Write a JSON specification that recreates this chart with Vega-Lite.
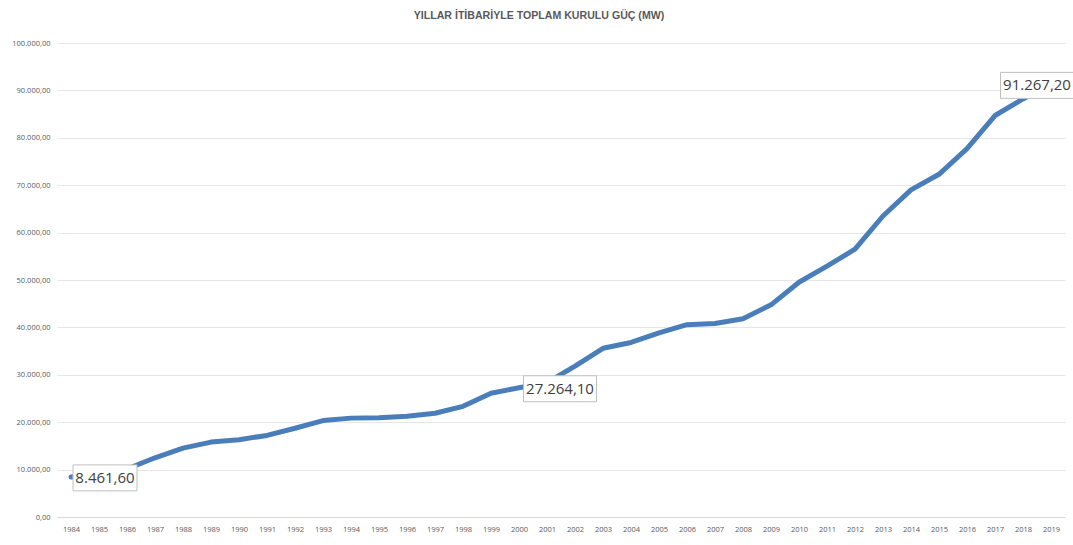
{
  "$schema": "https://vega.github.io/schema/vega-lite/v6.json",
  "width": 1008,
  "height": 474,
  "autosize": {"type": "none"},
  "padding": {"left": 57, "top": 43, "right": 8, "bottom": 28},
  "background": "white",
  "config": {
    "locale": {"number": {"decimal": ",", "thousands": ".", "grouping": [3], "currency": ["", " ₺"]}},
    "view": {"stroke": null},
    "font": "Open Sans"
  },
  "title": {
    "text": "YILLAR İTİBARİYLE TOPLAM KURULU GÜÇ (MW)",
    "anchor": "middle",
    "dx": -22,
    "offset": 17,
    "font": "Liberation Sans",
    "fontSize": 10.6,
    "fontWeight": "bold",
    "color": "#595959"
  },
  "data": {
    "values": [
      {"year": 1984, "mw": 8461.6},
      {"year": 1985, "mw": 9121.6},
      {"year": 1986, "mw": 10115.2},
      {"year": 1987, "mw": 12495.1},
      {"year": 1988, "mw": 14520.6},
      {"year": 1989, "mw": 15808.3},
      {"year": 1990, "mw": 16317.6},
      {"year": 1991, "mw": 17209.1},
      {"year": 1992, "mw": 18716.1},
      {"year": 1993, "mw": 20337.6},
      {"year": 1994, "mw": 20859.8},
      {"year": 1995, "mw": 20954.3},
      {"year": 1996, "mw": 21249.4},
      {"year": 1997, "mw": 21891.9},
      {"year": 1998, "mw": 23354.0},
      {"year": 1999, "mw": 26119.3},
      {"year": 2000, "mw": 27264.1},
      {"year": 2001, "mw": 28332.4},
      {"year": 2002, "mw": 31845.8},
      {"year": 2003, "mw": 35587.0},
      {"year": 2004, "mw": 36824.0},
      {"year": 2005, "mw": 38843.5},
      {"year": 2006, "mw": 40564.8},
      {"year": 2007, "mw": 40835.7},
      {"year": 2008, "mw": 41817.2},
      {"year": 2009, "mw": 44761.2},
      {"year": 2010, "mw": 49524.1},
      {"year": 2011, "mw": 52911.1},
      {"year": 2012, "mw": 56500.0},
      {"year": 2013, "mw": 63500.0},
      {"year": 2014, "mw": 69000.0},
      {"year": 2015, "mw": 72300.0},
      {"year": 2016, "mw": 77700.0},
      {"year": 2017, "mw": 84700.0},
      {"year": 2018, "mw": 88200.0},
      {"year": 2019, "mw": 91267.2}
    ]
  },
  "encoding": {
    "x": {
      "field": "year",
      "type": "ordinal",
      "scale": {"type": "point", "padding": 0.5},
      "axis": {
        "title": null,
        "labelAngle": 0,
        "ticks": false,
        "domain": true,
        "domainColor": "#d9d9d9",
        "labelFont": "Open Sans",
        "labelFontSize": 7.5,
        "labelColor": "#595959",
        "labelPadding": 8,
        "grid": false
      }
    },
    "y": {
      "field": "mw",
      "type": "quantitative",
      "scale": {"domain": [0, 100000], "nice": false},
      "axis": {
        "title": null,
        "values": [0, 10000, 20000, 30000, 40000, 50000, 60000, 70000, 80000, 90000, 100000],
        "format": ",.2f",
        "domain": false,
        "ticks": false,
        "grid": true,
        "gridColor": "#e6e6e6",
        "labelFont": "Open Sans",
        "labelFontSize": 7.5,
        "labelColor": "#595959",
        "labelPadding": 7
      }
    }
  },
  "layer": [
    {
      "mark": {"type": "line", "color": "#4a7ebb", "strokeWidth": 5, "strokeJoin": "round", "strokeCap": "round"}
    },
    {
      "transform": [{"filter": "datum.year == 1984"}],
      "mark": {"type": "point", "shape": "M-1,-0.406L1,-0.406L1,0.406L-1,0.406Z", "size": 4096, "filled": true, "fill": "white", "stroke": "#bfbfbf", "strokeWidth": 1, "opacity": 1, "fillOpacity": 1, "xOffset": 34, "yOffset": 1}
    },
    {
      "transform": [{"filter": "datum.year == 1984"}],
      "mark": {"type": "text", "align": "center", "baseline": "middle", "dx": 34, "dy": 1, "font": "Open Sans", "fontSize": 15, "color": "#404040"},
      "encoding": {"text": {"field": "mw", "type": "quantitative", "format": ",.2f"}}
    },
    {
      "transform": [{"filter": "datum.year == 2000"}],
      "mark": {"type": "point", "shape": "M-1,-0.356L1,-0.356L1,0.356L-1,0.356Z", "size": 5329, "filled": true, "fill": "white", "stroke": "#bfbfbf", "strokeWidth": 1, "opacity": 1, "fillOpacity": 1, "xOffset": 41, "yOffset": 1}
    },
    {
      "transform": [{"filter": "datum.year == 2000"}],
      "mark": {"type": "text", "align": "center", "baseline": "middle", "dx": 41, "dy": 1, "font": "Open Sans", "fontSize": 15, "color": "#404040"},
      "encoding": {"text": {"field": "mw", "type": "quantitative", "format": ",.2f"}}
    },
    {
      "transform": [{"filter": "datum.year == 2019"}],
      "mark": {"type": "point", "shape": "M-1,-0.356L1,-0.356L1,0.356L-1,0.356Z", "size": 5329, "filled": true, "fill": "white", "stroke": "#bfbfbf", "strokeWidth": 1, "opacity": 1, "fillOpacity": 1, "xOffset": -14, "yOffset": 1}
    },
    {
      "transform": [{"filter": "datum.year == 2019"}],
      "mark": {"type": "text", "align": "center", "baseline": "middle", "dx": -14, "dy": 1, "font": "Open Sans", "fontSize": 15, "color": "#404040"},
      "encoding": {"text": {"field": "mw", "type": "quantitative", "format": ",.2f"}}
    }
  ]
}
